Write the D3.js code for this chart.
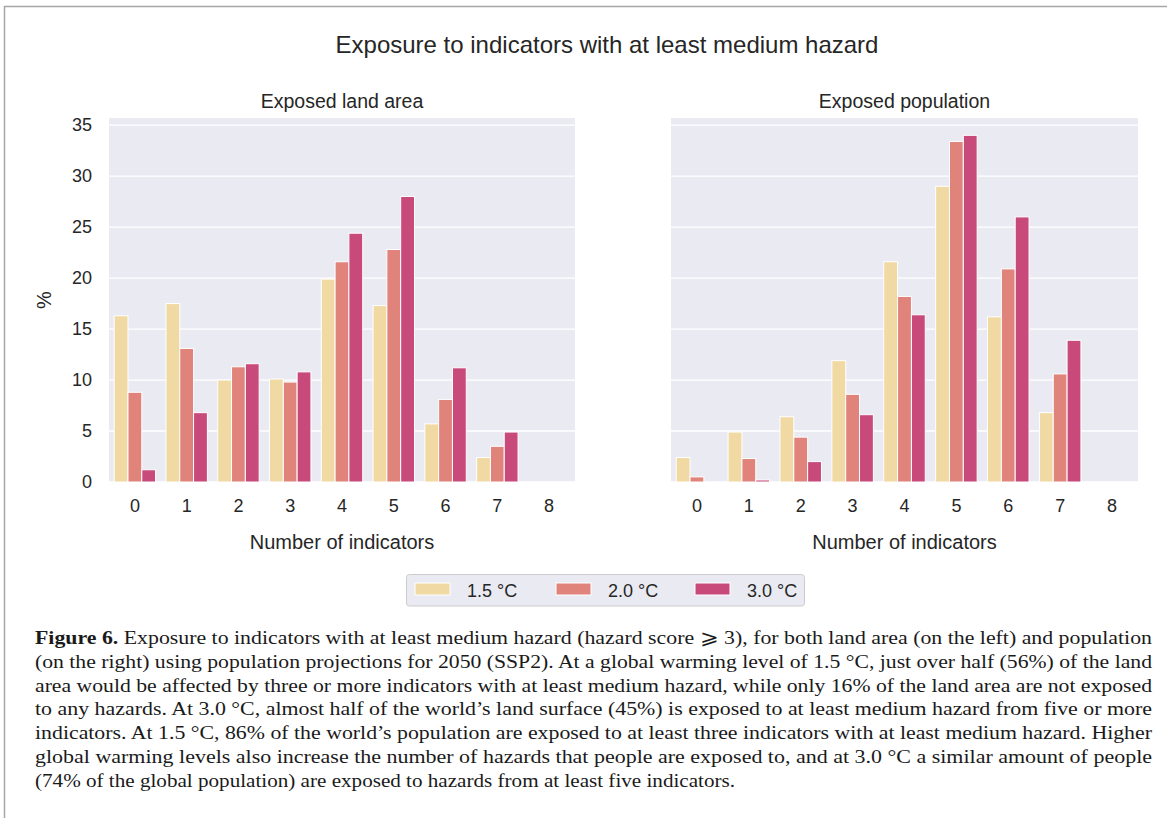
<!DOCTYPE html>
<html>
<head>
<meta charset="utf-8">
<script src="https://cdn.jsdelivr.net/npm/d3@7"></script>
<style>
  html, body { margin: 0; padding: 0; background: #fff; }
  svg { display: block; }
</style>
</head>
<body>
<svg id="fig" width="1167" height="818"></svg>
<script>
// Number of indicators with at least medium hazard
const categories = ["0", "1", "2", "3", "4", "5", "6", "7", "8"];
const warmingLevels = ["1.5 °C", "2.0 °C", "3.0 °C"];
const levelColors = ["#f0d9a3", "#e0837b", "#c84a7a"];

// Share of land area (%) per warming level
const landArea15 = [16.3, 17.5, 10.0, 10.1, 19.9, 17.3, 5.7, 2.4, 0];
const landArea20 = [8.8, 13.1, 11.3, 9.8, 21.6, 22.8, 8.1, 3.5, 0];
const landArea30 = [1.2, 6.8, 11.6, 10.8, 24.4, 28.0, 11.2, 4.9, 0];

// Share of population (%) per warming level
const population15 = [2.4, 4.9, 6.4, 11.9, 21.6, 29.0, 16.2, 6.8, 0];
const population20 = [0.5, 2.3, 4.4, 8.6, 18.2, 33.4, 20.9, 10.6, 0];
const population30 = [0.0, 0.2, 2.0, 6.6, 16.4, 34.0, 26.0, 13.9, 0];

const yTicks = [0, 5, 10, 15, 20, 25, 30, 35];

const panels = [
  { title: "Exposed land area", series: [landArea15, landArea20, landArea30], x0: 109, x1: 575, showY: true },
  { title: "Exposed population", series: [population15, population20, population30], x0: 671, x1: 1138, showY: false }
];

const captionLines = [
  { bold: "Figure 6.", text: " Exposure to indicators with at least medium hazard (hazard score \u2A7E 3), for both land area (on the left) and population", width: 1117 },
  { bold: "", text: "(on the right) using population projections for 2050 (SSP2). At a global warming level of 1.5 °C, just over half (56%) of the land", width: 1117 },
  { bold: "", text: "area would be affected by three or more indicators with at least medium hazard, while only 16% of the land area are not exposed", width: 1117 },
  { bold: "", text: "to any hazards. At 3.0 °C, almost half of the world’s land surface (45%) is exposed to at least medium hazard from five or more", width: 1117 },
  { bold: "", text: "indicators. At 1.5 °C, 86% of the world’s population are exposed to at least three indicators with at least medium hazard. Higher", width: 1117 },
  { bold: "", text: "global warming levels also increase the number of hazards that people are exposed to, and at 3.0 °C a similar amount of people", width: 1117 },
  { bold: "", text: "(74% of the global population) are exposed to hazards from at least five indicators.", width: 700 }
];

const svg = d3.select("#fig");
const sans = "'Liberation Sans', Arial, Helvetica, sans-serif";
const serif = "'Liberation Serif', 'Times New Roman', serif";
const ink = "#262626";

svg.append("rect").attr("width", 1167).attr("height", 818).attr("fill", "#fff");

// page frame
svg.append("path")
  .attr("d", "M4.5,818 L4.5,6.5 L1167,6.5")
  .attr("fill", "none").attr("stroke", "#a6a6a6").attr("stroke-width", 1.5);

// figure title
svg.append("text")
  .attr("x", 607).attr("y", 53)
  .attr("text-anchor", "middle")
  .attr("font-family", sans).attr("font-size", 24).attr("fill", ink)
  .text("Exposure to indicators with at least medium hazard");

const plotTop = 118, plotBottom = 482;
const y = d3.scaleLinear().domain([0, 35.7]).range([plotBottom, plotTop]);

panels.forEach(p => {
  const g = svg.append("g");
  const x = d3.scaleBand().domain(categories).range([p.x0, p.x1]).padding(0);
  const inner = d3.scaleBand().domain(warmingLevels)
    .range([x.bandwidth() * 0.1, x.bandwidth() * 0.9]).padding(0);

  // background
  g.append("rect")
    .attr("x", p.x0).attr("y", plotTop)
    .attr("width", p.x1 - p.x0).attr("height", plotBottom - plotTop)
    .attr("fill", "#eaeaf2");

  // horizontal grid
  g.selectAll("line.grid").data(yTicks).enter().append("line")
    .attr("class", "grid")
    .attr("x1", p.x0).attr("x2", p.x1)
    .attr("y1", d => y(d)).attr("y2", d => y(d))
    .attr("stroke", "#fff").attr("stroke-width", 1.3);

  // bars, one group of three per indicator count
  warmingLevels.forEach((lvl, si) => {
    const rows = p.series[si].map((v, i) => ({ cat: categories[i], v }));
    g.selectAll(null).data(rows.filter(r => r.v > 0)).enter().append("rect")
      .attr("x", r => x(r.cat) + inner(lvl))
      .attr("y", r => y(r.v))
      .attr("width", inner.bandwidth())
      .attr("height", r => y(0) - y(r.v))
      .attr("fill", levelColors[si])
      .attr("stroke", "#fff").attr("stroke-width", 1);
  });

  // x axis
  const xAxis = d3.axisBottom(x).tickSize(0).tickPadding(17);
  const xa = g.append("g").attr("transform", `translate(0,${plotBottom})`).call(xAxis);
  xa.select(".domain").remove();
  xa.selectAll("text").attr("font-family", sans).attr("font-size", 18).attr("fill", ink);

  // y axis
  if (p.showY) {
    const yAxis = d3.axisLeft(y).tickValues(yTicks).tickSize(0).tickPadding(17);
    const ya = g.append("g").attr("transform", `translate(${p.x0},0)`).call(yAxis);
    ya.select(".domain").remove();
    ya.selectAll("text").attr("font-family", sans).attr("font-size", 18).attr("fill", ink);

    g.append("text")
      .attr("transform", `translate(51,${(plotTop + plotBottom) / 2}) rotate(-90)`)
      .attr("text-anchor", "middle")
      .attr("font-family", sans).attr("font-size", 20).attr("fill", ink)
      .text("%");
  }

  // panel title
  g.append("text")
    .attr("x", (p.x0 + p.x1) / 2).attr("y", 108)
    .attr("text-anchor", "middle")
    .attr("font-family", sans).attr("font-size", 19.5).attr("fill", ink)
    .text(p.title);

  // x axis label
  g.append("text")
    .attr("x", (p.x0 + p.x1) / 2).attr("y", 549)
    .attr("text-anchor", "middle")
    .attr("font-family", sans).attr("font-size", 20).attr("fill", ink)
    .text("Number of indicators");
});

// legend
const legend = svg.append("g");
legend.append("rect")
  .attr("x", 406.5).attr("y", 574.5).attr("width", 398).attr("height", 31.5)
  .attr("rx", 3).attr("ry", 3)
  .attr("fill", "#eaeaf2").attr("stroke", "#cccccc").attr("stroke-width", 1);
const legendX = [415, 556, 695];
warmingLevels.forEach((lvl, i) => {
  legend.append("rect")
    .attr("x", legendX[i]).attr("y", 583).attr("width", 35).attr("height", 12)
    .attr("fill", levelColors[i]).attr("stroke", "#fff").attr("stroke-width", 1);
  legend.append("text")
    .attr("x", legendX[i] + 52).attr("y", 596.5)
    .attr("font-family", sans).attr("font-size", 18).attr("fill", ink)
    .text(lvl);
});

// caption
const cap = svg.append("g");
captionLines.forEach((line, i) => {
  const t = cap.append("text")
    .attr("x", 35).attr("y", 644 + i * 23.8)
    .attr("font-family", serif).attr("font-size", 19.5).attr("fill", "#1a1a1a")
    .attr("textLength", line.width).attr("lengthAdjust", "spacingAndGlyphs");
  if (line.bold) t.append("tspan").attr("font-weight", "bold").text(line.bold);
  t.append("tspan").text(line.text);
});
</script>
</body>
</html>
